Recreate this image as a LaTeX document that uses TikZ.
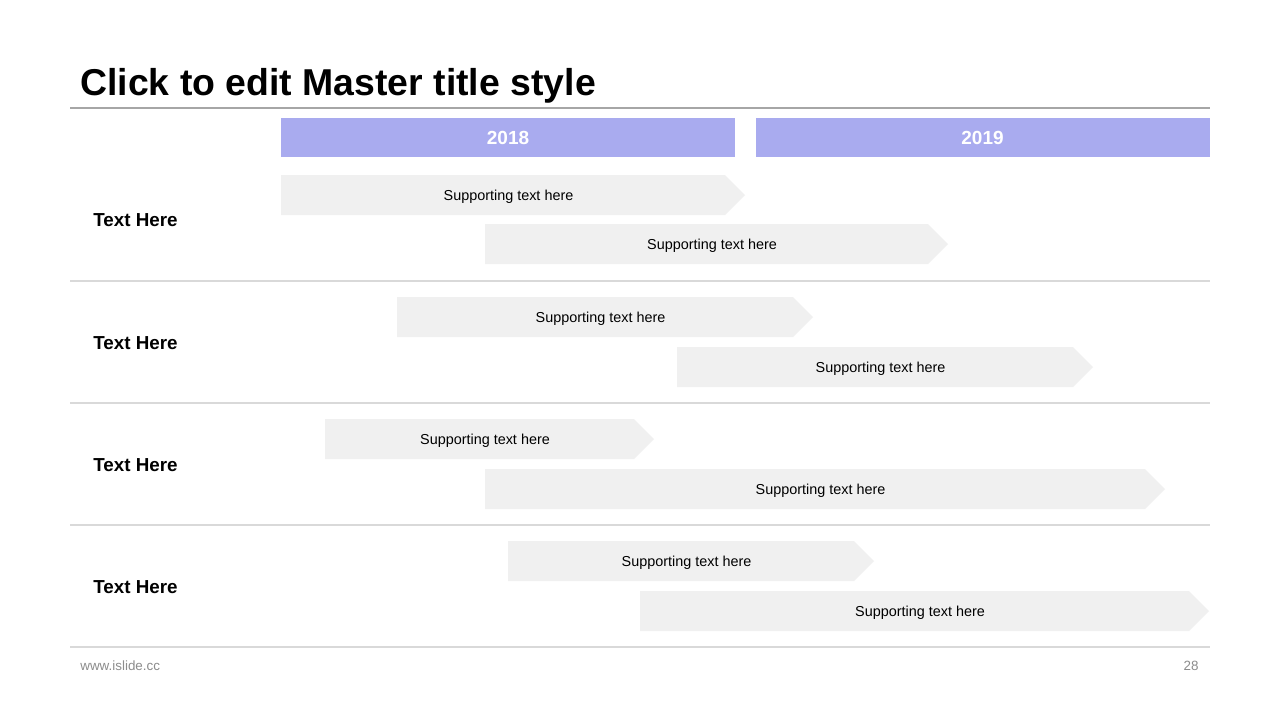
\documentclass[tikz,border=0pt]{standalone}
\usepackage{fontspec}
\setmainfont{Liberation Sans}
\usepackage{xcolor}
\usetikzlibrary{positioning}
\definecolor{lavender}{HTML}{A9ABEF}
\definecolor{barfill}{HTML}{F0F0F0}
\definecolor{ruleline}{HTML}{D9D9D9}
\definecolor{titlerule}{HTML}{A6A6A6}
\definecolor{footgray}{HTML}{8C8C8C}

\begin{document}
\begin{tikzpicture}[x=0.5pt,y=-0.5pt,
    yearbox/.style={fill=lavender, text=white, inner sep=0pt,
      minimum width=227pt, minimum height=19.5pt,
      font=\fontsize{9.5}{11}\selectfont\bfseries},
    rowlabel/.style={anchor=west, inner sep=0pt,
      font=\fontsize{9.4}{11}\selectfont\bfseries},
    bartext/.style={inner sep=0pt, font=\fontsize{7.2}{9}\selectfont},
    foot/.style={inner sep=0pt, text=footgray, font=\fontsize{6.7}{8}\selectfont}]
  \useasboundingbox[fill=white] (0,0) rectangle (1280,720);
  % title
  \node[anchor=base west, inner sep=0pt, font=\fontsize{18.7}{22}\selectfont\bfseries]
    (title) at (80,95) {Click to edit Master title style};
  \draw[titlerule, line width=0.6pt] (70,108) -- (1210,108);
  % years
  \node[yearbox] (y2018) at (508,137.5) {2018};
  \node[yearbox] (y2019) at (982.5,137.5) {2019};
  % rows
  \foreach \y [count=\i] in {220,343,465,587}
    \node[rowlabel] (row\i) at (93,\y) {Text Here};
  \foreach \y in {281,403,525,647}
    \draw[ruleline, line width=0.6pt] (70,\y) -- (1210,\y);
  % bars: left, top, end of body
  \foreach \xa/\ya/\xb [count=\i] in {281/175/725, 485/224/928,
      397/297/793, 677/347/1073, 325/419/634, 485/469/1145,
      508/541/854, 640/591/1189} {
    \fill[barfill] (\xa,\ya) -- (\xb,\ya) -- ({\xb+20},{\ya+20})
      -- (\xb,{\ya+40}) -- (\xa,{\ya+40}) -- cycle;
    \node[bartext] (bar\i) at ({(\xa+\xb)/2+5.5},{\ya+21.5}) {Supporting text here};
  }
  % footer
  \node[foot, anchor=west] (site) at (80,666) {www.islide.cc};
  \node[foot, anchor=east] (page) at (1199,666) {28};
\end{tikzpicture}
\end{document}
